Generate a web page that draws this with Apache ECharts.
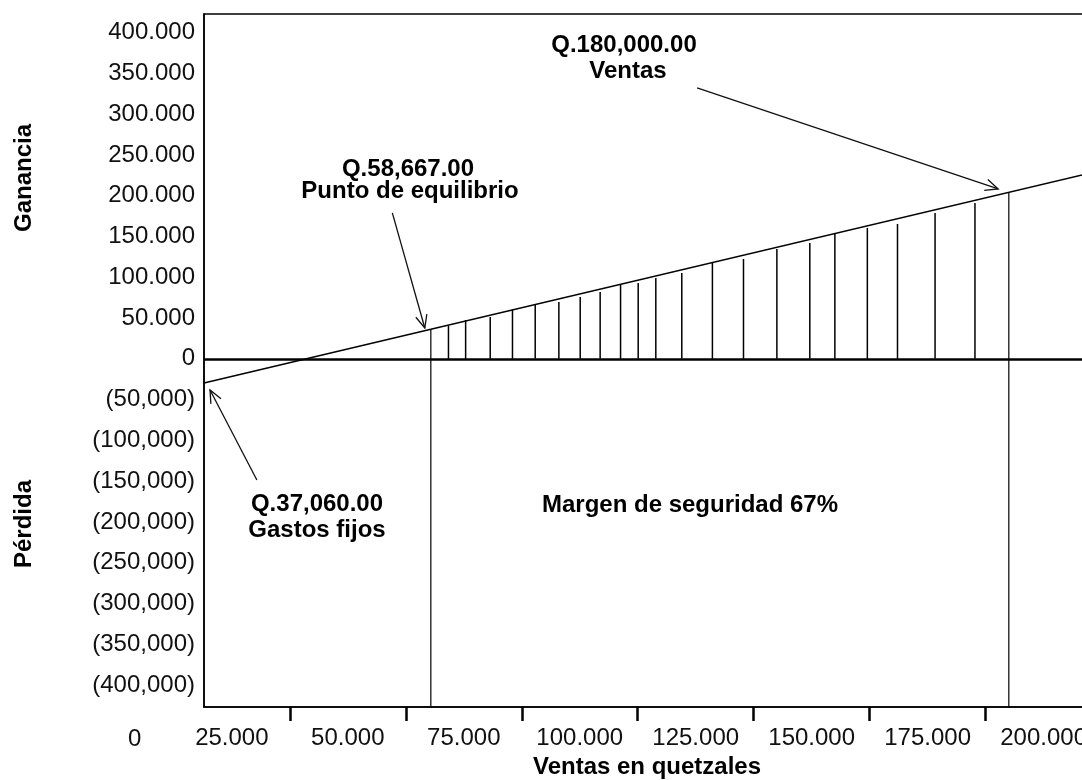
<!DOCTYPE html>
<html>
<head>
<meta charset="utf-8">
<script src="https://cdn.jsdelivr.net/npm/echarts@6/dist/echarts.min.js"></script>
<style>html,body{margin:0;padding:0;background:#fff}#c{width:1082px;height:780px}</style>
</head>
<body>
<div id="c"></div>
<script>
// ---- data ----
const xLabelValues = [25000, 50000, 75000, 100000, 125000, 150000, 175000, 200000];
const xTickValues = [37500, 62500, 87500, 112500, 137500, 162500, 187500];
const yLabelValues = [-400000, -350000, -300000, -250000, -200000, -150000, -100000, -50000, 0,
  50000, 100000, 150000, 200000, 250000, 300000, 350000, 400000];

// profit line (sales -> profit)
const lineSales = [19000, 210000];
const lineProfit = [-29600, 227900];

// hatch lines in the profit zone
const hatchSales = [71700, 75400, 80700, 85500, 90400, 95500, 100100, 104400, 108800, 112600,
  116400, 122000, 128600, 135300, 142500, 149600, 155000, 162000, 168500, 176600, 185200];
const hatchProfit = [40400, 47700, 51400, 60000, 66100, 69800, 75900, 82100, 90600, 93100,
  99300, 105400, 117600, 122500, 134800, 142200, 153200, 160600, 165500, 179000, 191200];

// break-even and sales verticals
const keySales = [67900, 192500];
const keyProfit = [36700, 203500];

// annotation arrows: from (sales, profit) to (sales, profit)
const arrowFromSales = [30400, 59600, 125300];
const arrowFromProfit = [-148500, 179000, 332300];
const arrowToSales = [20300, 66600, 190200];
const arrowToProfit = [-38100, 37900, 208400];

const X_MIN = 19000, X_MAX = 210000, Y_MIN = -427000, Y_MAX = 423000;

const FONT = "'Liberation Sans', Arial, sans-serif";

const chart = echarts.init(document.getElementById('c'), null, {renderer: 'canvas'});

function fmtY(v) {
  if (v === 0) return '0';
  if (v > 0) return (v / 1000) + '.000';
  return '(' + (-v / 1000) + ',000)';
}
function fmtX(v) { return (v / 1000) + '.000'; }

const option = {
  animation: false,
  backgroundColor: '#fff',
  grid: {left: 204, top: 14, width: 886, height: 693, outerBoundsMode: 'none', show: true, borderColor: '#000', borderWidth: 1.5, containLabel: false},
  xAxis: {
    type: 'value', min: X_MIN, max: X_MAX,
    name: 'Ventas en quetzales', nameLocation: 'middle', nameGap: 46,
    nameTextStyle: {fontFamily: FONT, fontSize: 24, fontWeight: 'bold', color: '#000'},
    axisLine: {show: true, onZero: false, lineStyle: {color: '#000', width: 1.5}},
    axisTick: {show: true, inside: false, length: 14, customValues: xTickValues, lineStyle: {color: '#000', width: 2.5}},
    axisLabel: {show: true, customValues: xLabelValues, formatter: fmtX, margin: 19, fontFamily: FONT, fontSize: 24, color: '#111'},
    splitLine: {show: false}
  },
  yAxis: {
    type: 'value', min: Y_MIN, max: Y_MAX,
    axisLine: {show: true, onZero: false, lineStyle: {color: '#000', width: 1.5}},
    axisTick: {show: false},
    axisLabel: {show: true, customValues: yLabelValues, formatter: fmtY, margin: 9, fontFamily: FONT, fontSize: 24, color: '#111'},
    splitLine: {show: false}
  },
  graphic: [
    {type: 'text', left: 128, top: 727, style: {text: '0', font: '24px ' + FONT, fill: '#111'}},
    {type: 'text', x: 24, y: 178, rotation: Math.PI / 2, style: {text: 'Ganancia', font: 'bold 24px ' + FONT, fill: '#000', textAlign: 'center', textVerticalAlign: 'middle'}},
    {type: 'text', x: 24, y: 524, rotation: Math.PI / 2, style: {text: 'Pérdida', font: 'bold 24px ' + FONT, fill: '#000', textAlign: 'center', textVerticalAlign: 'middle'}},
    {type: 'text', x: 624, y: 45, style: {text: 'Q.180,000.00', font: 'bold 24px ' + FONT, fill: '#000', textAlign: 'center', textVerticalAlign: 'middle'}},
    {type: 'text', x: 628, y: 71, style: {text: 'Ventas', font: 'bold 24px ' + FONT, fill: '#000', textAlign: 'center', textVerticalAlign: 'middle'}},
    {type: 'text', x: 408, y: 169, style: {text: 'Q.58,667.00', font: 'bold 24px ' + FONT, fill: '#000', textAlign: 'center', textVerticalAlign: 'middle'}},
    {type: 'text', x: 410, y: 191, style: {text: 'Punto de equilibrio', font: 'bold 24px ' + FONT, fill: '#000', textAlign: 'center', textVerticalAlign: 'middle'}},
    {type: 'text', x: 317, y: 504, style: {text: 'Q.37,060.00', font: 'bold 24px ' + FONT, fill: '#000', textAlign: 'center', textVerticalAlign: 'middle'}},
    {type: 'text', x: 317, y: 530, style: {text: 'Gastos fijos', font: 'bold 24px ' + FONT, fill: '#000', textAlign: 'center', textVerticalAlign: 'middle'}},
    {type: 'text', x: 690, y: 505, style: {text: 'Margen de seguridad 67%', font: 'bold 24px ' + FONT, fill: '#000', textAlign: 'center', textVerticalAlign: 'middle'}}
  ],
  series: [
    {
      type: 'line',
      data: lineSales.map((s, i) => [s, lineProfit[i]]),
      symbol: 'none',
      lineStyle: {color: '#000', width: 1.6},
      markLine: {
        silent: true, symbol: ['none', 'none'],
        label: {show: false},
        lineStyle: {color: '#000', width: 2.6, type: 'solid'},
        data: [{yAxis: 0}]
      }
    },
    {
      type: 'custom',
      data: hatchSales.map((s, i) => [s, hatchProfit[i]]),
      encode: {x: 0, y: 1},
      renderItem: function (params, api) {
        const p0 = api.coord([api.value(0), 0]);
        const p1 = api.coord([api.value(0), api.value(1)]);
        return {type: 'line', shape: {x1: p0[0], y1: p0[1], x2: p1[0], y2: p1[1]}, style: {stroke: '#000', lineWidth: 1.5}};
      }
    },
    {
      type: 'custom',
      data: keySales.map((s, i) => [s, keyProfit[i]]),
      encode: {x: 0, y: 1},
      renderItem: function (params, api) {
        const p0 = api.coord([api.value(0), Y_MIN]);
        const p1 = api.coord([api.value(0), api.value(1)]);
        return {type: 'line', shape: {x1: p0[0], y1: p0[1], x2: p1[0], y2: p1[1]}, style: {stroke: '#000', lineWidth: 1.2}};
      }
    },
    {
      type: 'custom',
      data: arrowFromSales.map((s, i) => [s, arrowFromProfit[i], arrowToSales[i], arrowToProfit[i]]),
      encode: {x: [0, 2], y: [1, 3]},
      renderItem: function (params, api) {
        const a = api.coord([api.value(0), api.value(1)]);
        const b = api.coord([api.value(2), api.value(3)]);
        const ang = Math.atan2(b[1] - a[1], b[0] - a[0]);
        const L = 14, spread = 0.42;
        const h1 = [b[0] - L * Math.cos(ang - spread), b[1] - L * Math.sin(ang - spread)];
        const h2 = [b[0] - L * Math.cos(ang + spread), b[1] - L * Math.sin(ang + spread)];
        return {
          type: 'group',
          children: [
            {type: 'line', shape: {x1: a[0], y1: a[1], x2: b[0], y2: b[1]}, style: {stroke: '#111', lineWidth: 1.3}},
            {type: 'polyline', shape: {points: [h1, b, h2]}, style: {stroke: '#111', lineWidth: 1.3, fill: null}}
          ]
        };
      }
    }
  ]
};
chart.setOption(option);
</script>
</body>
</html>
